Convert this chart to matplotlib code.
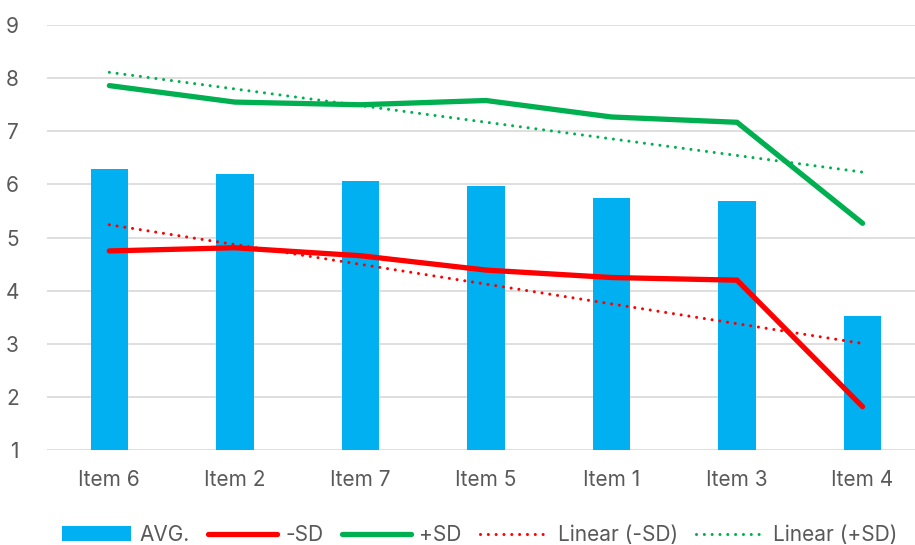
import numpy as np
import matplotlib
matplotlib.use("Agg")
import matplotlib.pyplot as plt
from matplotlib.lines import Line2D
from matplotlib.patches import Patch

plt.rcParams['font.family'] = ['Inter', 'DejaVu Sans']

# Data
items = ["Item 6", "Item 2", "Item 7", "Item 5", "Item 1", "Item 3", "Item 4"]
avg = [6.30, 6.19, 6.06, 5.97, 5.75, 5.68, 3.53]
minus_sd = [4.75, 4.81, 4.66, 4.39, 4.25, 4.20, 1.82]
plus_sd = [7.86, 7.55, 7.50, 7.58, 7.27, 7.17, 5.27]
y_ticks = [1, 2, 3, 4, 5, 6, 7, 8, 9]

BLUE = "#00B0F0"
RED = "#FF0000"
GREEN = "#00B050"
GRID = "#D9D9D9"
TEXT = "#595959"

fig = plt.figure(figsize=(9.15, 5.45), dpi=100)
ax = fig.add_axes([0.0509, 0.1738, 0.9604, 0.7803])

x = np.arange(1, len(items) + 1)
ax.bar(x, np.array(avg) - 1, bottom=1, width=0.30, color=BLUE, zorder=2)
ax.plot(x, minus_sd, color=RED, lw=3.8, solid_capstyle='round',
        solid_joinstyle='miter', zorder=3)
ax.plot(x, plus_sd, color=GREEN, lw=3.8, solid_capstyle='round',
        solid_joinstyle='miter', zorder=3)

# Linear trendlines fitted to each band
dot = (0, (0.01, 2.55))
for series, col in ((minus_sd, RED), (plus_sd, GREEN)):
    k, b = np.polyfit(x, series, 1)
    ax.plot(x, k * x + b, color=col, lw=2.2, linestyle=dot,
            dash_capstyle='round', zorder=4)

ax.set_xlim(0.5, len(items) + 0.5)
ax.set_ylim(1, 9)
ax.set_yticks(y_ticks)
ax.set_xticks(x)
ax.set_xticklabels(items)
ax.grid(axis='y', color=GRID, lw=1.2, zorder=0)
ax.set_axisbelow(True)
for s in ax.spines.values():
    s.set_visible(False)
ax.tick_params(axis='both', length=0, labelsize=15, colors=TEXT)
ax.tick_params(axis='y', pad=20)
ax.tick_params(axis='x', pad=14)

handles = [
    Patch(facecolor=BLUE, edgecolor='none'),
    Line2D([], [], color=RED, lw=3.8, solid_capstyle='round'),
    Line2D([], [], color=GREEN, lw=3.8, solid_capstyle='round'),
    Line2D([], [], color=RED, lw=2.2, linestyle=dot, dash_capstyle='round'),
    Line2D([], [], color=GREEN, lw=2.2, linestyle=dot, dash_capstyle='round'),
]
labels = ["AVG.", "-SD", "+SD", "Linear (-SD)", "Linear (+SD)"]
leg = fig.legend(handles, labels, loc='center', bbox_to_anchor=(0.5246, 1 - 535 / 545),
                 ncol=5, frameon=False, fontsize=15, handlelength=3.3,
                 handletextpad=0.4, columnspacing=0.9, labelcolor=TEXT)

fig.savefig("out.png", dpi=100)
